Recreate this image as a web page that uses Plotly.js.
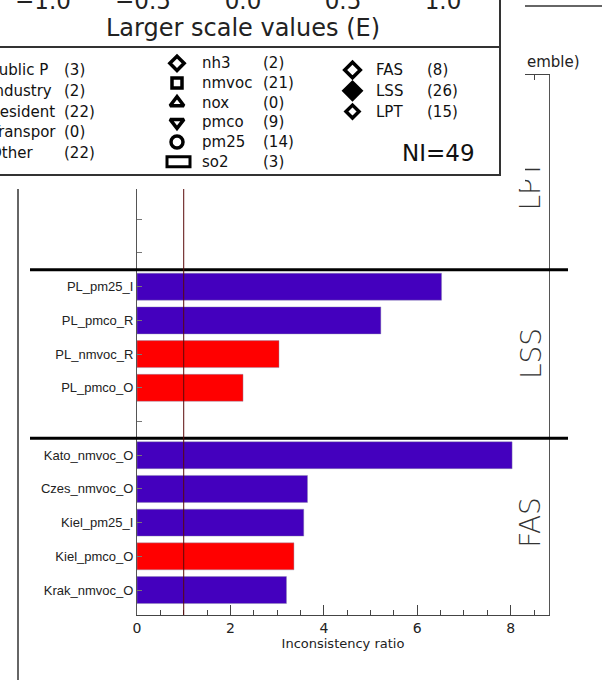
<!DOCTYPE html>
<html><head><meta charset="utf-8">
<script src="https://cdn.plot.ly/plotly-3.0.1.min.js"></script>
<style>
html,body{margin:0;padding:0;width:602px;height:680px;overflow:hidden;background:#fff;}
#chart{position:absolute;left:0;top:0;width:602px;height:680px;}
#key{position:absolute;left:-40px;top:-60px;width:565px;height:249px;background:#fff;}
</style></head><body>
<div id="chart"></div><div id="key"></div>
<script>
// ---- data ----
const sections = ['FAS', 'LSS', 'LPT'];
const fasLabels = ['Kato_nmvoc_O', 'Czes_nmvoc_O', 'Kiel_pm25_I', 'Kiel_pmco_O', 'Krak_nmvoc_O'];
const fasValues = [8.03, 3.65, 3.57, 3.36, 3.20];
const fasSign   = ['pos', 'pos', 'pos', 'neg', 'pos'];
const lssLabels = ['PL_pm25_I', 'PL_pmco_R', 'PL_nmvoc_R', 'PL_pmco_O'];
const lssValues = [6.52, 5.22, 3.04, 2.27];
const lssSign   = ['pos', 'pos', 'neg', 'neg'];
const lptLabels = [];
const lptValues = [];
const lptSign   = [];
const xTickVals = [0, 2, 4, 6, 8];
const topTickVals = [-1, -0.5, 0, 0.5, 1];
const sectorNames  = ['Public P', 'Industry', 'Resident', 'Transpor', 'Other'];
const sectorCounts = [3, 2, 22, 0, 22];
const speciesNames  = ['nh3', 'nmvoc', 'nox', 'pmco', 'pm25', 'so2'];
const speciesCounts = [2, 21, 0, 9, 14, 3];
const groupNames  = ['FAS', 'LSS', 'LPT'];
const groupCounts = [8, 26, 15];
const nInconsistent = 49;

// ---- build main chart ----
const FONT = 'DejaVu Sans';
const SLOTS = 5;
const colorOf = {pos: '#4400BE', neg: '#FF0000'};
const groups = [[fasLabels, fasValues, fasSign], [lssLabels, lssValues, lssSign], [lptLabels, lptValues, lptSign]];
const ys = [], xs = [], cols = [], tickVals = [], tickText = [];
for (let k = 0; k <= SLOTS * sections.length; k++) { tickVals.push(k); tickText.push(''); }
groups.forEach((g, s) => {
  g[0].forEach((lab, i) => {
    const pos = s * SLOTS + (SLOTS - 1 - i);
    ys.push(pos); xs.push(g[1][i]); cols.push(colorOf[g[2][i]]);
    tickText[pos] = lab;
  });
});

const L = 137, R = 549, T = 75, B = 615;
const px = v => (v - L) / (R - L);       // page x -> paper
const py = v => (B - v) / (B - T);       // page y -> paper

const shapes = [];
for (let s = 1; s < sections.length; s++) {
  shapes.push({type: 'line', xref: 'paper', yref: 'y', x0: px(30), x1: px(568),
    y0: s * SLOTS - 0.5, y1: s * SLOTS - 0.5, line: {color: '#000', width: 3}});
}
shapes.push({type: 'line', xref: 'x', yref: 'paper', x0: 1, x1: 1, y0: 0, y1: 1,
  line: {color: '#5a0a0a', width: 1}});
shapes.push({type: 'line', xref: 'paper', yref: 'paper', x0: px(18), x1: px(18), y0: py(700), y1: py(100),
  line: {color: '#333', width: 1.5}});
shapes.push({type: 'line', xref: 'paper', yref: 'paper', x0: px(500), x1: px(610), y0: py(6), y1: py(6),
  line: {color: '#333', width: 1.5}});

const annotations = sections.map((name, s) => ({
  text: name, xref: 'paper', yref: 'y', x: px(531), y: s * SLOTS + (SLOTS - 1) / 2,
  showarrow: false, textangle: -90, xanchor: 'center', yanchor: 'middle',
  font: {family: FONT, size: 28, color: '#333', weight: 200}
}));
annotations.push({text: 'emble)', xref: 'paper', yref: 'paper', x: px(525), y: py(62),
  xanchor: 'left', yanchor: 'middle', showarrow: false, font: {family: FONT, size: 15, color: '#222'}});

Plotly.newPlot('chart', [{
  type: 'bar', orientation: 'h', x: xs, y: ys, width: 0.8,
  marker: {color: cols, line: {color: 'rgba(140,140,170,0.7)', width: 0.6}},
  hoverinfo: 'x+y'
}], {
  width: 602, height: 680,
  margin: {l: L, r: 602 - R, t: T, b: 680 - B},
  paper_bgcolor: '#fff', plot_bgcolor: '#fff',
  showlegend: false,
  font: {family: FONT, color: '#222'},
  xaxis: {
    range: [0, 8.82], tickvals: xTickVals, ticks: 'inside', ticklen: 10, tickcolor: '#444',
    minor: {dtick: 0.5, ticks: 'inside', ticklen: 5, tickcolor: '#444', showgrid: false},
    showline: true, linecolor: '#444', linewidth: 1, mirror: 'ticks',
    showgrid: false, zeroline: false,
    tickfont: {family: FONT, size: 14, color: '#222'},
    title: {text: 'Inconsistency ratio', font: {family: FONT, size: 13, color: '#222'}, standoff: 3}
  },
  yaxis: {
    range: [-0.74, 15.28], tickvals: tickVals, ticktext: tickText,
    ticks: 'inside', ticklen: 5, tickcolor: '#777',
    showline: true, linecolor: '#555', linewidth: 1, mirror: true,
    showgrid: false, zeroline: false,
    tickfont: {family: 'Liberation Sans', size: 13, color: '#222'}
  },
  shapes: shapes, annotations: annotations
}, {displayModeBar: false, staticPlot: true});

// ---- key box (overlay, page coordinates via x2/y2) ----
const keyAnn = [];
const txt = (t, x, y, size, anchor) => keyAnn.push({text: t, xref: 'x2', yref: 'y2', x: x, y: y,
  xanchor: anchor || 'left', yanchor: 'middle', showarrow: false,
  font: {family: FONT, size: size || 15, color: '#111'}});
sectorNames.forEach((n, i) => { const y = 70 + 20.8 * i; txt(n, -12, y); txt('(' + sectorCounts[i] + ')', 62, y); });
speciesNames.forEach((n, i) => { const y = 63.3 + 19.7 * i; txt(n, 200, y); txt('(' + speciesCounts[i] + ')', 261, y); });
groupNames.forEach((n, i) => { const y = 70 + 20.8 * i; txt(n, 374, y); txt('(' + groupCounts[i] + ')', 425, y); });
txt('NI=' + nInconsistent, 438, 153, 23, 'center');

const specSym = ['diamond-open', 'square-open', 'triangle-up-open', 'triangle-down-open', 'circle-open'];
const specSize = [11, 10, 12, 12, 12];
const grpSym = ['diamond-open', 'diamond', 'diamond-open'];
const grpSize = [12, 13, 10];

const keyTraces = [
  {type: 'scatter', mode: 'markers', xaxis: 'x2', yaxis: 'y2',
   x: specSym.map(() => 177), y: specSym.map((s, i) => 63.3 + 19.7 * i),
   marker: {symbol: specSym, size: specSize, color: '#000', opacity: 1, line: {color: '#000', width: 3.5}}},
  {type: 'scatter', mode: 'markers', xaxis: 'x2', yaxis: 'y2',
   x: grpSym.map(() => 352.5), y: grpSym.map((s, i) => 70 + 20.8 * i),
   marker: {symbol: grpSym, size: grpSize, color: '#000', opacity: 1, line: {color: '#000', width: 3.5}}},
  {type: 'scatter', mode: 'markers', x: topTickVals, y: topTickVals.map(() => 0), marker: {opacity: 0}, xaxis: 'x', yaxis: 'y'}
];
const so2Y = 63.3 + 19.7 * 5;
const keyShapes = [
  {type: 'rect', xref: 'x2', yref: 'y2', x0: -20, x1: 500, y0: -80, y1: 175, line: {color: '#333', width: 2}},
  {type: 'line', xref: 'x2', yref: 'y2', x0: -20, x1: 500, y0: 47, y1: 47, line: {color: '#333', width: 2}},
  {type: 'rect', xref: 'x2', yref: 'y2', x0: 167, x1: 190, y0: so2Y - 5, y1: so2Y + 5, line: {color: '#000', width: 3}}
];

Plotly.newPlot('key', keyTraces, {
  width: 565, height: 249, margin: {l: 0, r: 0, t: 0, b: 0},
  paper_bgcolor: '#fff', plot_bgcolor: 'rgba(0,0,0,0)', showlegend: false,
  font: {family: FONT, color: '#222'},
  xaxis: {domain: [43 / 565, 523 / 565], range: [-1.2, 1.2], anchor: 'y', tickvals: topTickVals,
    tickformat: '.1f', ticks: '', showline: false, showgrid: false, zeroline: false,
    tickfont: {family: FONT, size: 23, color: '#222'},
    title: {text: 'Larger scale values (E)', font: {family: FONT, size: 24, color: '#222'}, standoff: 1}},
  yaxis: {domain: [(249 - 45) / 249, 1], range: [-1, 1], visible: false},
  xaxis2: {domain: [0, 1], range: [-40, 525], anchor: 'y2', visible: false},
  yaxis2: {domain: [0, 1], range: [189, -60], anchor: 'x2', visible: false},
  shapes: keyShapes, annotations: keyAnn
}, {displayModeBar: false, staticPlot: true});
</script>
</body></html>
